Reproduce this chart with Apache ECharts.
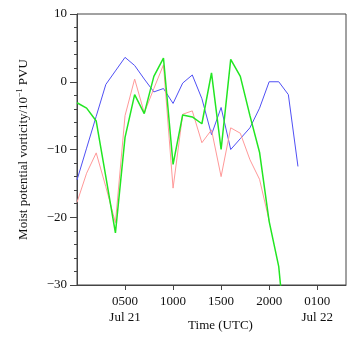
<!DOCTYPE html>
<html>
<head>
<meta charset="utf-8">
<script src="https://cdn.jsdelivr.net/npm/echarts@6/dist/echarts.min.js"></script>
<style>
  html, body { margin: 0; padding: 0; background: #fff; }
  #chart { width: 362px; height: 340px; }
</style>
</head>
<body>
<div id="chart"></div>
<script>
// Hours since 0000 UTC Jul 21
var hours = [0, 1, 2, 3, 4, 5, 6, 7, 8, 9, 10, 11, 12, 13, 14, 15, 16, 17, 18, 19, 20, 21, 22, 23];

// Moist potential vorticity (10^-1 PVU) for three runs
var blueValues  = [-14.5, -9.8, -5.1, -0.4, 1.6, 3.6, 2.4, 0.4, -1.5, -1.0, -3.2, -0.2, 1.0, -2.5, -7.8, -3.8, -10.0, -8.4, -6.8, -3.9, 0.0, 0.0, -1.9, -12.5];
var pinkValues  = [-17.8, -13.5, -10.5, -15.5, -20.8, -5.0, 0.4, -4.6, -1.0, 2.5, -15.7, -4.8, -4.3, -9.0, -7.1, -14.0, -6.8, -7.6, -11.5, -14.4, -20.5];
var greenValues = [-3.1, -3.9, -5.8, -14.0, -22.3, -8.2, -1.9, -4.7, 0.8, 3.5, -12.2, -4.9, -5.2, -6.2, 1.3, -10.0, 3.3, 0.8, -5.0, -10.4, -20.6, -27.3, -42.0];

// Time axis ticks and their labels
var tickHours  = [5, 10, 15, 20, 25];
var tickLabels = ['0500\nJul 21', '1000', '1500', '2000', '0100\nJul 22'];

// Value axis ticks
var yTicks = [-30, -20, -10, 0, 10];

function pairs(vals) {
  return vals.map(function (v, i) { return [hours[i], v]; });
}

var FONT = "'Liberation Serif', 'Times New Roman', serif";
var AXIS_COLOR = '#444';

var chart = echarts.init(document.getElementById('chart'), null, { renderer: 'canvas' });

chart.setOption({
  backgroundColor: '#ffffff',
  animation: false,
  grid: {
    left: 77, right: 16, top: 14, bottom: 55,
    outerBoundsMode: 'none',
    containLabel: false,
    show: true, borderColor: AXIS_COLOR, borderWidth: 1, backgroundColor: 'transparent'
  },
  xAxis: {
    type: 'value',
    min: 0, max: 28, interval: 5,
    name: 'Time (UTC)',
    nameLocation: 'middle',
    nameGap: 34,
    nameMoveOverlap: false,
    nameTextStyle: { fontFamily: FONT, fontSize: 13, color: '#111', padding: [0, 0, 0, 18] },
    axisLine: { show: true, onZero: false, lineStyle: { color: AXIS_COLOR, width: 1 } },
    axisTick: { show: true, inside: false, length: 5, lineStyle: { color: AXIS_COLOR }, customValues: tickHours },
    axisLabel: {
      customValues: tickHours,
      fontFamily: FONT, fontSize: 13, color: '#111', lineHeight: 15.5, margin: 9,
      formatter: function (v) {
        var i = tickHours.indexOf(v);
        return i >= 0 ? tickLabels[i] : '';
      }
    },
    splitLine: { show: false }
  },
  yAxis: {
    type: 'value',
    min: -30, max: 10, interval: 10,
    name: 'Moist potential vorticity/10{sup|\u22121} PVU',
    nameLocation: 'middle',
    nameGap: 46,
    nameRotate: 90,
    nameMoveOverlap: false,
    nameTextStyle: {
      fontFamily: FONT, fontSize: 13, color: '#111',
      rich: {
        sup: { fontFamily: FONT, fontSize: 8, color: '#111', padding: [0, 0, 7, 0] }
      }
    },
    axisLine: { show: true, onZero: false, lineStyle: { color: AXIS_COLOR, width: 1 } },
    axisTick: { show: true, inside: false, length: 7, lineStyle: { color: AXIS_COLOR } },
    minorTick: { show: true, splitNumber: 5, length: 3, lineStyle: { color: AXIS_COLOR } },
    axisLabel: {
      fontFamily: FONT, fontSize: 13, color: '#111', margin: 10,
      formatter: function (v) {
        return yTicks.indexOf(v) >= 0 ? String(v).replace('-', '\u2212') : '';
      }
    },
    splitLine: { show: false },
    minorSplitLine: { show: false }
  },
  series: [
    {
      name: 'blue', type: 'line', data: pairs(blueValues), symbol: 'none', clip: true,
      lineStyle: { color: '#5050f5', width: 1 }
    },
    {
      name: 'pink', type: 'line', data: pairs(pinkValues), symbol: 'none', clip: true,
      lineStyle: { color: '#ff9999', width: 1 }
    },
    {
      name: 'green', type: 'line', data: pairs(greenValues), symbol: 'none', clip: true,
      lineStyle: { color: '#22e622', width: 1.5 }
    }
  ]
});
</script>
</body>
</html>
